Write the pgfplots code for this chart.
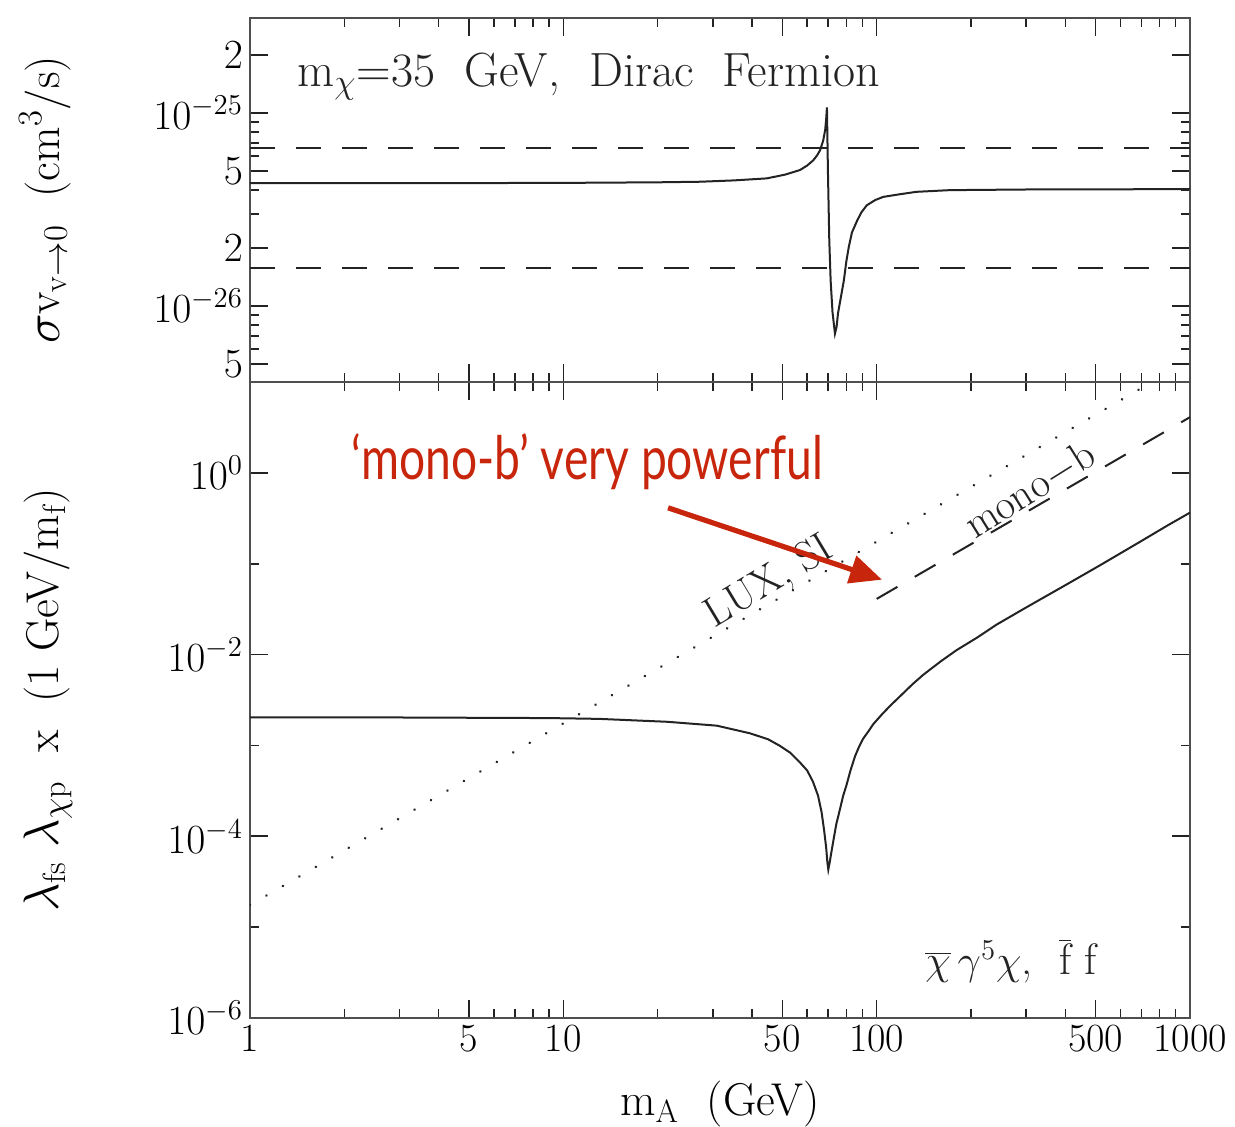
\documentclass[border=0pt]{standalone}
\usepackage{pgfplots}
\pgfplotsset{compat=1.18}
\usepackage{fontspec}
\usetikzlibrary{arrows.meta}
\newfontfamily\redfont{Lato}
\definecolor{annred}{RGB}{200,38,12}
\definecolor{ink}{RGB}{35,35,35}

\begin{document}
\begin{tikzpicture}
% ---------------- bottom panel ----------------
\begin{loglogaxis}[scale only axis, width=470pt, height=318pt, at={(0,0)}, anchor=south west,
  xmin=1, xmax=1000, ymin=1e-6, ymax=10,
  axis line style={ink!80, line width=1.2pt},
  tick style={ink, line width=0.8pt},
  major tick length=9pt, minor tick length=4.5pt,
  tick align=inside,
  xtick={1,5,10,50,100,500,1000},
  minor xtick={2,3,4,6,7,8,9,20,30,40,60,70,80,90,200,300,400,600,700,800,900},
  xticklabels={1,5,10,50,100,500,1000},
  ytick={1e-6,1e-4,1e-2,1},
  yticklabels={$10^{-6}$,$10^{-4}$,$10^{-2}$,$10^{0}$},
  minor ytick={1e-5,1e-3,1e-1,10},
  tick label style={font=\fontsize{20}{24}\selectfont},
  label style={font=\fontsize{23}{27}\selectfont},
  xlabel={m$_\mathrm{A}$\ \ (GeV)},
  xlabel style={at={(rel axis cs:0.5,-0.153)}, anchor=base},
  ylabel={$\lambda_{\mathrm{fs}}\ \lambda_{\chi\mathrm{p}}$\ \ x\ \ (1 GeV/m$_\mathrm{f}$)},
  ylabel style={at={(rel axis cs:-0.215,0.5)}, anchor=center},
]
\addplot[ink, line width=1pt] coordinates {
(1,2.03e-3) (3,2.03e-3) (9,2.0e-3) (13,1.96e-3) (21.5,1.82e-3) (30.9,1.65e-3)
(39.4,1.36e-3) (45,1.17e-3) (49.1,9.9e-4) (53,8.3e-4) (56.9,6.5e-4) (60,5.3e-4)
(62.6,4.0e-4) (65,2.8e-4) (66.7,1.85e-4) (68,1.15e-4) (69,7.5e-5) (69.6,5.2e-5)
(70.1,4.3e-5) (70.7,5.0e-5) (71.6,6.5e-5) (72.7,8.8e-5) (74.3,1.35e-4) (76.4,2.0e-4)
(78.2,2.8e-4) (80,3.6e-4) (82.5,5.3e-4) (85.3,7.6e-4) (88,9.8e-4) (90.6,1.19e-3)
(94,1.42e-3) (97.6,1.72e-3) (104,2.2e-3) (110.3,2.72e-3) (120,3.6e-3) (130,4.7e-3)
(140.9,6.0e-3) (160,8.4e-3) (180,1.12e-2) (210,1.55e-2) (241.6,2.14e-2) (300,3.3e-2)
(400,5.8e-2) (516,9.6e-2) (700,0.178) (850,0.265) (1000,0.365)
};
% LUX SI (dotted)
\addplot[ink, line width=1.4pt, line cap=round, dash pattern=on 0.01pt off 9.5pt] coordinates {
(1,1.75e-5) (760,10.1)
};
% mono-b (dashed)
\addplot[ink, line width=1pt, dash pattern=on 12pt off 10pt] coordinates {
(100,0.041) (1000,4.1)
};
\node[rotate=31, font=\fontsize{21}{25}\selectfont, text=ink] at (rel axis cs:0.553,0.684) {LUX, SI};
\node[rotate=32, font=\fontsize{21}{25}\selectfont, text=ink] at (rel axis cs:0.830,0.830) {mono$-$b};
\node[anchor=base west, inner sep=0pt, font=\fontsize{22}{26}\selectfont, text=ink] at (rel axis cs:0.718,0.069)
  {$\overline{\chi}\,\gamma^5\chi$,\ \ $\overline{\mathrm{f}}\ \mathrm{f}$};
\node[text=annred, font=\redfont\fontsize{30}{34}\selectfont] at (rel axis cs:0.3585,0.874)
  {\scalebox{0.77}[1]{‘mono-b’ very powerful}};
\draw[annred, line width=2.6pt, -{Triangle[length=16pt,width=14pt]}]
  (axis cs:21.6,0.412) -- (axis cs:104,0.0667);
\end{loglogaxis}
% ---------------- top panel ----------------
\begin{loglogaxis}[scale only axis, width=470pt, height=182pt, at={(0,318pt)}, anchor=south west,
  xmin=1, xmax=1000, ymin=4.04e-27, ymax=3.11e-25,
  axis line style={ink!80, line width=1.2pt},
  tick style={ink, line width=0.8pt},
  major tick length=9pt, minor tick length=4.5pt,
  tick align=inside,
  xtick={1,5,10,50,100,500,1000},
  minor xtick={2,3,4,6,7,8,9,20,30,40,60,70,80,90,200,300,400,600,700,800,900},
  xticklabels={},
  ytick={5e-27,1e-26,2e-26,5e-26,1e-25,2e-25},
  yticklabels={$5$,$10^{-26}$,$2$,$5$,$10^{-25}$,$2$},
  minor ytick={6e-27,7e-27,8e-27,9e-27,3e-26,4e-26,6e-26,7e-26,8e-26,9e-26},
  tick label style={font=\fontsize{20}{24}\selectfont},
  label style={font=\fontsize{23}{27}\selectfont},
  ylabel={$\sigma\mathrm{v}_{\mathrm{v}\to0}$\ \ (cm$^3$/s)},
  ylabel style={at={(rel axis cs:-0.218,0.5)}, anchor=center},
]
\addplot[ink, line width=1pt] coordinates {
(1,4.34e-26) (5,4.34e-26) (10,4.35e-26) (20,4.38e-26) (27.3,4.41e-26) (35,4.48e-26)
(44.6,4.59e-26) (51,4.8e-26) (56.9,5.07e-26) (60,5.35e-26) (62.8,5.70e-26) (64.6,6.05e-26)
(66,6.43e-26) (67.5,7.2e-26) (68.5,8.17e-26) (69.0,9.3e-26) (69.4,1.07e-25) (69.9,5.0e-26)
(70.6,2.2e-26) (71.3,1.36e-26) (72.3,9.3e-27) (73.6,7.2e-27) (74.5,7.8e-27) (75.3,9.2e-27)
(76.8,1.1e-26) (78.6,1.36e-26) (80,1.7e-26) (81.5,2.03e-26) (83.4,2.41e-26) (86.8,2.79e-26)
(89.5,3.07e-26) (93.0,3.33e-26) (98.8,3.54e-26) (104.9,3.68e-26) (118.7,3.80e-26) (134,3.91e-26)
(171,3.99e-26) (300,4.02e-26) (600,4.03e-26) (1000,4.04e-26)
};
\addplot[ink, line width=1pt, dash pattern=on 12.5pt off 10.5pt] coordinates {(1,6.59e-26) (1000,6.59e-26)};
\addplot[ink, line width=1pt, dash pattern=on 12.5pt off 10.5pt] coordinates {(1,1.57e-26) (1000,1.57e-26)};
\node[anchor=base west, inner sep=0pt, font=\fontsize{24}{28}\selectfont, text=ink] at (rel axis cs:0.05,0.813)
  {m$_\chi$=35\ \ GeV,\ \ Dirac\ \ Fermion};
\end{loglogaxis}
\pgfresetboundingbox
\path[use as bounding box] (-125pt,-54.5pt) rectangle (492.5pt,509pt);
\end{tikzpicture}
\end{document}
